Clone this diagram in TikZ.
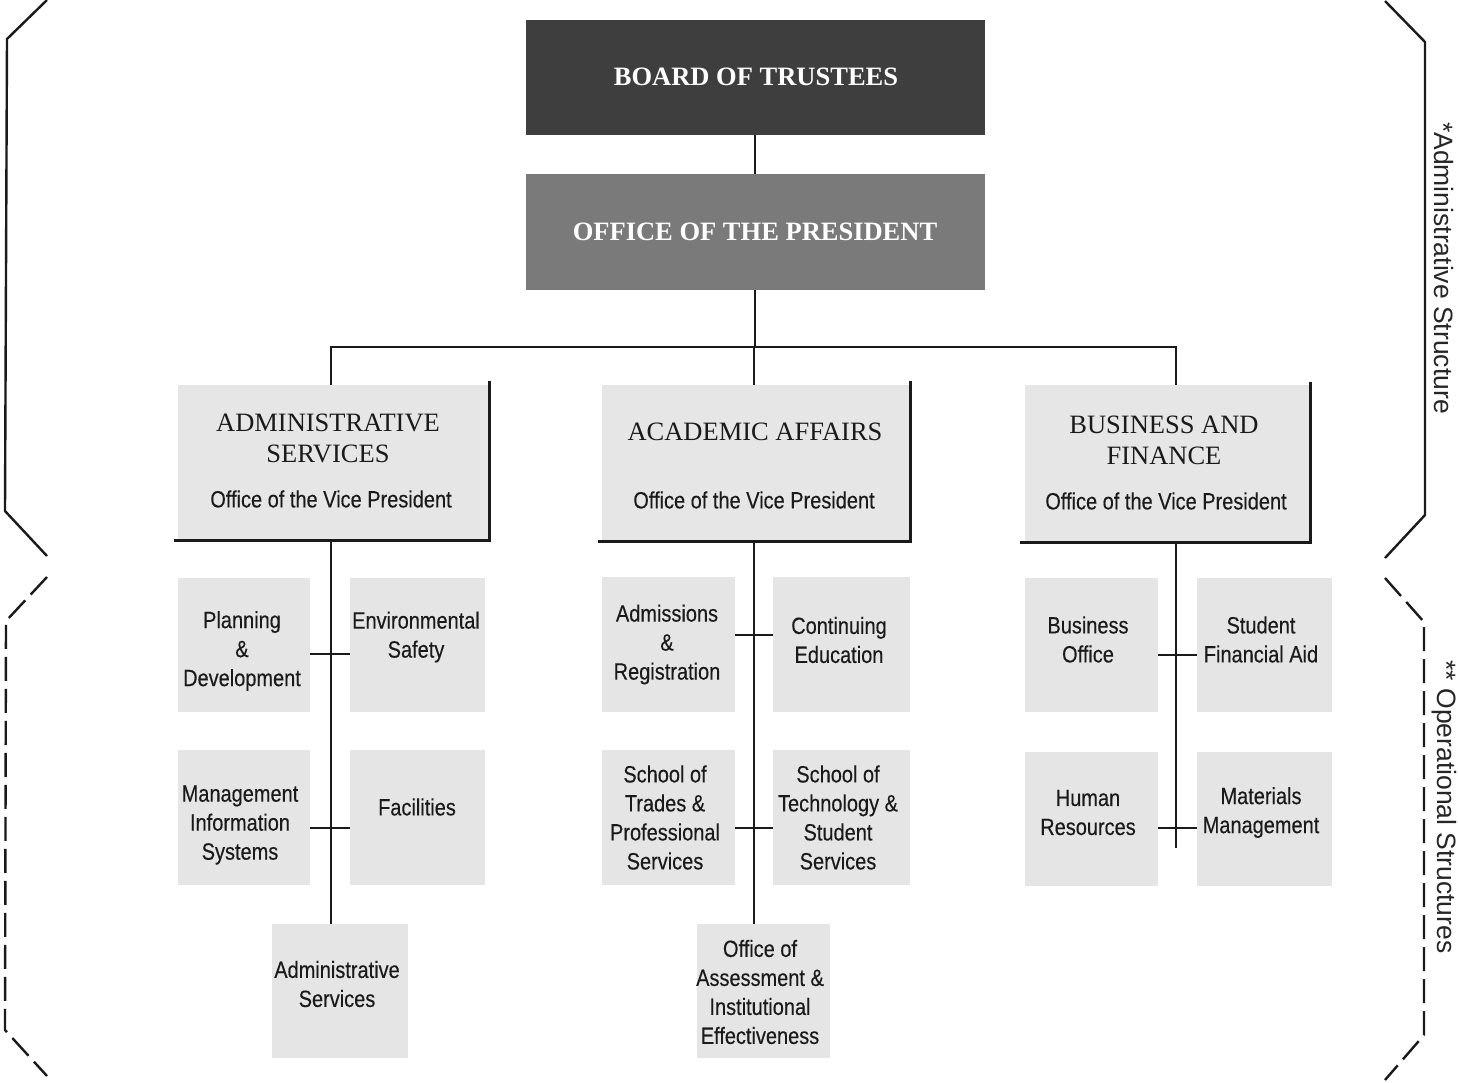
\documentclass[tikz,border=0pt]{standalone}
\usepackage{fontspec}
\setmainfont{Liberation Serif}
\newfontfamily\narrowsans{Liberation Sans}[FakeStretch=0.85,FakeBold=0.25]
\newfontfamily\plainsans{Liberation Sans}
\usetikzlibrary{calc}
\definecolor{boardc}{HTML}{3E3E3E}
\definecolor{presc}{HTML}{7A7A7A}
\definecolor{vpc}{HTML}{E6E6E6}
\definecolor{smc}{HTML}{E5E5E5}
\definecolor{txtc}{HTML}{1A1A1A}
\definecolor{linec}{HTML}{1A1A1A}
\begin{document}
\begin{tikzpicture}[x=1pt,y=-1pt,
  conn/.style={draw=linec, line width=2pt},
  shadeline/.style={draw=linec, line width=3pt},
  brk/.style={draw=linec, line width=2.4pt, line join=miter},
  brkd/.style={brk, dash pattern=on 24pt off 8pt},
  topbox/.style={inner sep=0pt, minimum width=459pt, minimum height=115pt},
  vpbox/.style={fill=vpc, inner sep=0pt},
  sbox/.style={fill=smc, inner sep=0pt},
  stxt/.style={align=center, inner sep=0pt, text=txtc, font=\narrowsans\fontsize{23.5}{29}\selectfont},
  vtitle/.style={align=center, inner sep=0pt, text=txtc, font=\fontsize{26.5}{31}\selectfont},
  ttl/.style={inner sep=0pt, text=white, font=\bfseries\fontsize{26.5}{31}\selectfont},
  side/.style={inner sep=0pt, rotate=-90, text=black!85, font=\plainsans\fontsize{26.5}{32}\selectfont}]
\useasboundingbox (0,0) rectangle (1458,1082);
\fill[white] (0,0) rectangle (1458,1082);

% brackets
\draw[brk] (47,0) -- (7,39) -- (5,511) -- (47,556);
\draw[brkd] (47,577) -- (6,621) -- (5,1030) -- (47,1076);
\draw[brk] (1385,1) -- (1425,42) -- (1425,515) -- (1385,558);
\draw[brkd] (1385,578) -- (1424,622) -- (1424,1035) -- (1385,1080);
\node[side] (lblA) at (1444,268) {*Administrative Structure};
\node[side] (lblO) at (1444,807) {** Operational Structures};

% top boxes
\node[topbox, fill=boardc] (board) at (755,77.5) {};
\node[ttl] (boardt) at (756,77) {BOARD OF TRUSTEES};
\node[topbox, fill=presc, minimum height=116pt] (pres) at (755,232) {};
\node[ttl] (prest) at (755,232) {OFFICE OF THE PRESIDENT};

% column coordinates
\coordinate (colA) at (331,0);
\coordinate (colB) at (754,0);
\coordinate (colC) at (1176,0);
\coordinate (hub) at (755,347);

% VP boxes
\node[vpbox, minimum width=311pt, minimum height=155pt] (adm) at (333.5,462.5) {};
\node[vpbox, minimum width=308pt, minimum height=156pt] (aca) at (756,463) {};
\node[vpbox, minimum width=285pt, minimum height=157pt] (fin) at (1167.5,463.5) {};
\draw[shadeline] ([yshift=4pt]adm.north east) -- (adm.south east) -- ([xshift=-4pt]adm.south west);
\draw[shadeline] ([yshift=4pt]aca.north east) -- (aca.south east) -- ([xshift=-4pt]aca.south west);
\draw[shadeline] ([yshift=3pt]fin.north east) -- (fin.south east) -- ([xshift=-5pt]fin.south west);
\node[vtitle] (admt) at (328,438.5) {ADMINISTRATIVE\\SERVICES};
\node[stxt] (adms) at (331,499) {Office of the Vice President};
\node[vtitle] (acat) at (755,432) {ACADEMIC AFFAIRS};
\node[stxt] (acas) at (754,500) {Office of the Vice President};
\node[vtitle] (fint) at (1164,440.5) {BUSINESS AND\\FINANCE};
\node[stxt] (fins) at (1166,501) {Office of the Vice President};

% small boxes: administrative services column
\node[sbox, minimum width=132pt, minimum height=134pt] (pd) at (244,645) {};
\node[sbox, minimum width=135pt, minimum height=134pt] (es) at (417.5,645) {};
\node[sbox, minimum width=132pt, minimum height=135pt] (mis) at (244,817.5) {};
\node[sbox, minimum width=135pt, minimum height=135pt] (fac) at (417.5,817.5) {};
\node[sbox, minimum width=136pt, minimum height=134pt] (asv) at (340,991) {};
\node[stxt] (pdt) at (242,651) {Planning\\\&\\Development};
\node[stxt] (est) at (416,637) {Environmental\\Safety};
\node[stxt] (mist) at (240,825) {Management\\Information\\Systems};
\node[stxt] (fact) at (417,807) {Facilities};
\node[stxt] (asvt) at (337,984) {Administrative\\Services};

% academic affairs column
\node[sbox, minimum width=133pt, minimum height=135pt] (am) at (668.5,644.5) {};
\node[sbox, minimum width=137pt, minimum height=135pt] (ce) at (841.5,644.5) {};
\node[sbox, minimum width=133pt, minimum height=135pt] (stp) at (668.5,817.5) {};
\node[sbox, minimum width=137pt, minimum height=135pt] (sts) at (841.5,817.5) {};
\node[sbox, minimum width=133pt, minimum height=134pt] (oa) at (763.5,991) {};
\node[stxt] (amt) at (667,644.5) {Admissions\\\&\\Registration};
\node[stxt] (cet) at (839,640) {Continuing\\Education};
\node[stxt] (stpt) at (665,817.5) {School of\\Trades \&\\Professional\\Services};
\node[stxt] (stst) at (838,817.5) {School of\\Technology \&\\Student\\Services};
\node[stxt] (oat) at (760,992) {Office of\\Assessment \&\\Institutional\\Effectiveness};

% business and finance column
\node[sbox, minimum width=133pt, minimum height=134pt] (bo) at (1091.5,645) {};
\node[sbox, minimum width=135pt, minimum height=134pt] (sfa) at (1264.5,645) {};
\node[sbox, minimum width=133pt, minimum height=134pt] (hr) at (1091.5,819) {};
\node[sbox, minimum width=135pt, minimum height=134pt] (mm) at (1264.5,819) {};
\node[stxt] (bot) at (1088,639.5) {Business\\Office};
\node[stxt] (sfat) at (1261,639.5) {Student\\Financial Aid};
\node[stxt] (hrt) at (1088,812.5) {Human\\Resources};
\node[stxt] (mmt) at (1261,812.5) {Materials\\Management};

% tick rows
\coordinate (rA1) at (0,654);
\coordinate (rA2) at (0,828);
\coordinate (rB1) at (0,635);
\coordinate (rB2) at (0,828);
\coordinate (rC1) at (0,655);
\coordinate (rC2) at (0,828);
\coordinate (cEnd) at (1176,848);

% connectors
\draw[conn] (board.south) -- (pres.north);
\draw[conn] (pres.south) -- (hub);
\draw[conn] (adm.north -| colA) -- (hub -| colA) -- (hub -| colC) -- (fin.north -| colC);
\draw[conn] (aca.north -| colB) -- (hub -| colB);
\draw[conn] (adm.south -| colA) -- (asv.north -| colA);
\draw[conn] (aca.south -| colB) -- (oa.north -| colB);
\draw[conn] (fin.south -| colC) -- (cEnd);
\draw[conn] (pd.east |- rA1) -- (es.west |- rA1);
\draw[conn] (mis.east |- rA2) -- (fac.west |- rA2);
\draw[conn] (am.east |- rB1) -- (ce.west |- rB1);
\draw[conn] (stp.east |- rB2) -- (sts.west |- rB2);
\draw[conn] (bo.east |- rC1) -- (sfa.west |- rC1);
\draw[conn] (hr.east |- rC2) -- (mm.west |- rC2);
\end{tikzpicture}
\end{document}
